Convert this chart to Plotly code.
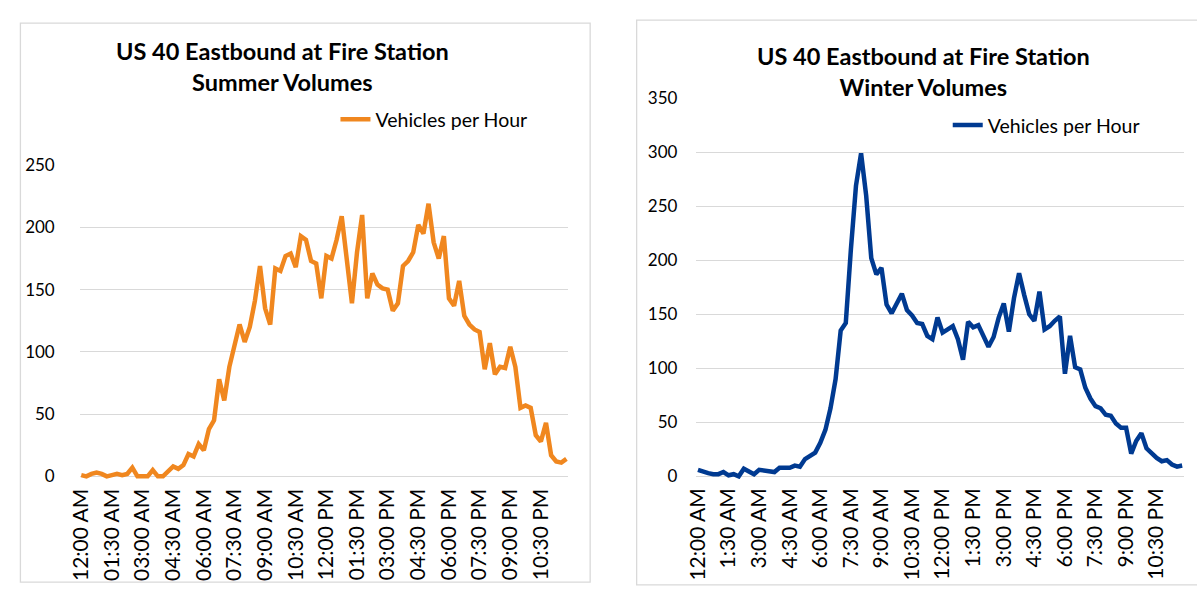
import plotly.graph_objects as go

W, H = 1197, 590

summer = [1, 0, 2, 3, 2, 0, 1, 2, 1, 2,
          7, 0, 0, 0, 5, 0, 0, 4, 8, 6,
          9, 18, 16, 26, 21, 38, 45, 78, 61, 88,
          104, 122, 108, 120, 141, 169, 135, 122, 167, 165,
          177, 179, 168, 193, 190, 173, 171, 143, 177, 175,
          190, 209, 174, 139, 180, 210, 143, 163, 154, 151,
          150, 133, 139, 169, 173, 180, 202, 195, 219, 188,
          175, 193, 143, 137, 157, 129, 122, 118, 116, 86,
          107, 82, 88, 87, 104, 88, 55, 57, 55, 33,
          28, 43, 17, 12, 11, 14]

winter = [6, 4, 3, 2, 2, 4, 1, 2, 0, 7,
          4, 2, 6, 5, 4, 4, 8, 8, 8, 10,
          9, 16, 19, 22, 31, 43, 63, 90, 135, 142,
          210, 269, 299, 260, 202, 187, 193, 159, 151, 160,
          169, 154, 149, 142, 141, 130, 127, 147, 133, 136,
          139, 127, 108, 143, 138, 140, 130, 120, 129, 147,
          160, 134, 165, 188, 168, 150, 144, 171, 136, 139,
          144, 148, 95, 130, 101, 99, 82, 72, 65, 63,
          57, 56, 49, 45, 45, 21, 33, 40, 26, 21,
          17, 14, 15, 11, 9, 10]

summer_ticks = ["12:00 AM", "01:30 AM", "03:00 AM", "04:30 AM", "06:00 AM", "07:30 AM",
                "09:00 AM", "10:30 AM", "12:00 PM", "01:30 PM", "03:00 PM", "04:30 PM",
                "06:00 PM", "07:30 PM", "09:00 PM", "10:30 PM"]
winter_ticks = ["12:00 AM", "1:30 AM", "3:00 AM", "4:30 AM", "6:00 AM", "7:30 AM",
                "9:00 AM", "10:30 AM", "12:00 PM", "1:30 PM", "3:00 PM", "4:30 PM",
                "6:00 PM", "7:30 PM", "9:00 PM", "10:30 PM"]
tick_pos = list(range(0, 96, 6))
slots = list(range(96))

ORANGE = "#F0871F"
BLUE = "#003A91"
GRID = "#D9D9D9"
FONT = "Lato"


def px(x):
    return x / W


def py(y):
    return (H - y) / H


fig = go.Figure()
fig.add_trace(go.Scatter(x=slots, y=summer, mode="lines", name="Vehicles per Hour",
                         line=dict(color=ORANGE, width=4.5), xaxis="x", yaxis="y",
                         legend="legend"))
fig.add_trace(go.Scatter(x=slots, y=winter, mode="lines", name="Vehicles per Hour",
                         line=dict(color=BLUE, width=4.5), xaxis="x2", yaxis="y2",
                         legend="legend2"))

step = 5.16
pad = 0.3
lx0, lx1 = 69, 559.5
ly0, ly1 = 480, 159
lunit = (ly0 - ly1) / 250
rx0, rx1 = 692.5, 1182
ry0, ry1 = 480, 90
runit = (ry0 - ry1) / 350
ypad = 2.5

fig.update_layout(
    width=W, height=H,
    margin=dict(l=0, r=0, t=0, b=0),
    paper_bgcolor="white", plot_bgcolor="white",
    font=dict(family=FONT, color="#000000"),
    xaxis=dict(domain=[px(lx0 - pad * step), px(lx1 + pad * step)], range=[-pad, 95 + pad],
               tickvals=tick_pos, ticktext=summer_ticks, tickangle=-90,
               tickfont=dict(size=21, family=FONT), showgrid=False, anchor="y",
               showline=False, zeroline=False, ticks="", ticklabelstandoff=4),
    yaxis=dict(domain=[py(ly0 + ypad * lunit), py(ly1)], range=[-ypad, 250],
               tickvals=[0, 50, 100, 150, 200, 250], gridcolor=GRID, gridwidth=1.3,
               tickfont=dict(size=17, family=FONT), anchor="x", ticklabelstandoff=24,
               showline=False, zeroline=False, ticks=""),
    xaxis2=dict(domain=[px(rx0 - pad * step), px(rx1 + pad * step)], range=[-pad, 95 + pad],
                tickvals=tick_pos, ticktext=winter_ticks, tickangle=-90,
                tickfont=dict(size=21, family=FONT), showgrid=False, anchor="y2",
                showline=False, zeroline=False, ticks="", ticklabelstandoff=4),
    yaxis2=dict(domain=[py(ry0 + ypad * runit), py(ry1)], range=[-ypad, 350],
                tickvals=[0, 50, 100, 150, 200, 250, 300, 350], gridcolor=GRID, gridwidth=1.3,
                tickfont=dict(size=17, family=FONT), anchor="x2", ticklabelstandoff=18,
                showline=False, zeroline=False, ticks=""),
    legend=dict(x=px(326), y=py(112), xanchor="left", yanchor="middle",
                font=dict(size=19.5, family=FONT), bgcolor="rgba(0,0,0,0)"),
    legend2=dict(x=px(945), y=py(118), xanchor="left", yanchor="middle",
                 font=dict(size=19.5, family=FONT), bgcolor="rgba(0,0,0,0)"),
    showlegend=True,
)

fig.add_annotation(x=px(272), y=py(57), xref="paper", yref="paper", showarrow=False,
                   xanchor="center", yanchor="middle",
                   text="<b>US 40 Eastbound at Fire Station<br>Summer Volumes</b>",
                   font=dict(size=23.5, family=FONT), align="center")
fig.add_annotation(x=px(920), y=py(62), xref="paper", yref="paper", showarrow=False,
                   xanchor="center", yanchor="middle",
                   text="<b>US 40 Eastbound at Fire Station<br>Winter Volumes</b>",
                   font=dict(size=23.5, family=FONT), align="center")

fig.add_shape(type="rect", xref="paper", yref="paper", x0=px(7.5), x1=px(583.5),
              y0=py(589), y1=py(12.5), line=dict(color=GRID, width=1.3), layer="below")
fig.add_shape(type="rect", xref="paper", yref="paper", x0=px(630.5), x1=px(1205),
              y0=py(592), y1=py(9.5), line=dict(color=GRID, width=1.3), layer="below")

post = ("document.documentElement.style.margin='0';document.body.style.margin='0';"
        "document.body.style.overflow='hidden';"
        "var d=document.getElementById('{plot_id}');"
        "d.style.position='fixed';d.style.left='0px';d.style.top='0px';")

fig.write_html("out.html", config={"displayModeBar": False}, post_script=post)
